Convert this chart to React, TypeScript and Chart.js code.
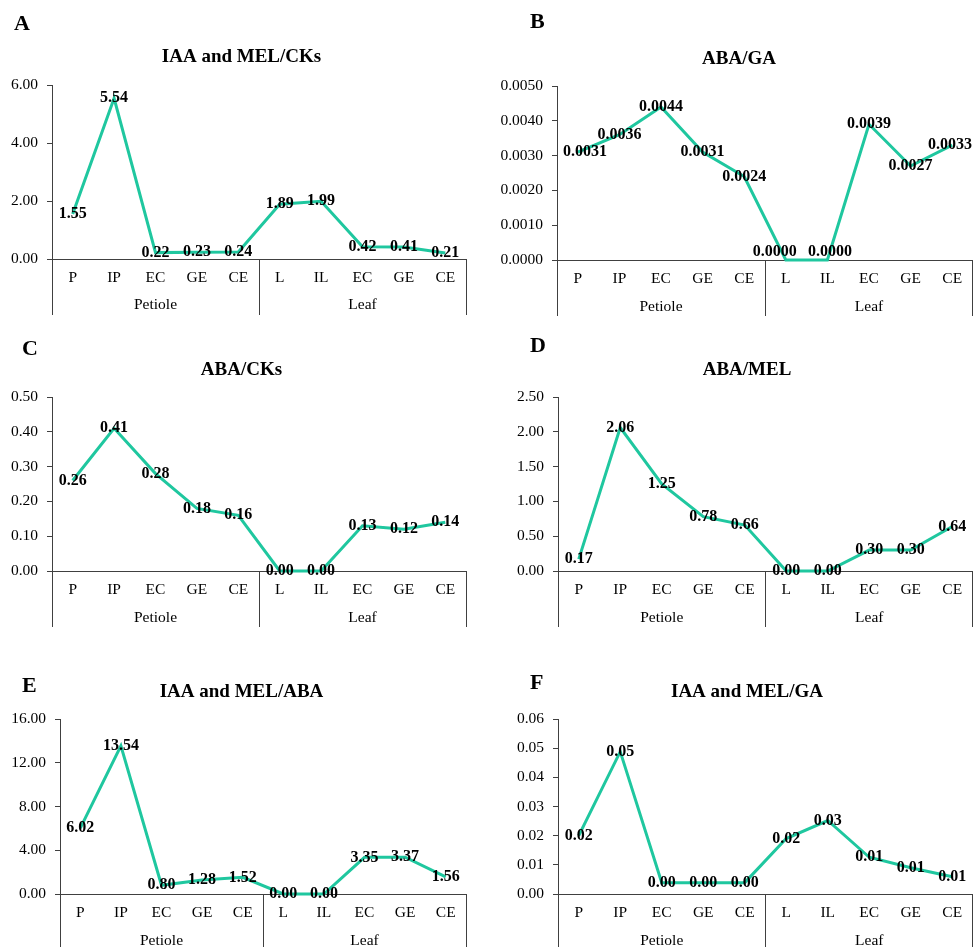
import React, { useEffect, useRef } from 'react';
import { Chart, registerables } from 'chart.js';

Chart.register(...registerables);

// ---------- data ----------
const categories = ['P', 'IP', 'EC', 'GE', 'CE', 'L', 'IL', 'EC', 'GE', 'CE'];
const groups = ['Petiole', 'Leaf'];
const groupSizes = [5, 5];

const iaaMelCks = [1.55, 5.54, 0.22, 0.23, 0.24, 1.89, 1.99, 0.42, 0.41, 0.21];
const abaGa = [0.0031, 0.0036, 0.0044, 0.0031, 0.0024, 0.0, 0.0, 0.0039, 0.0027, 0.0033];
const abaCks = [0.26, 0.41, 0.28, 0.18, 0.16, 0.0, 0.0, 0.13, 0.12, 0.14];
const abaMel = [0.17, 2.06, 1.25, 0.78, 0.66, 0.0, 0.0, 0.30, 0.30, 0.64];
const iaaMelAba = [6.02, 13.54, 0.80, 1.28, 1.52, 0.0, 0.0, 3.35, 3.37, 1.56];
const iaaMelGa = [0.0200, 0.0488, 0.0039, 0.0039, 0.0039, 0.0190, 0.0252, 0.0126, 0.0090, 0.0059];

const panelLetters = ['A', 'B', 'C', 'D', 'E', 'F'];
const panelTitles = ['IAA and MEL/CKs', 'ABA/GA', 'ABA/CKs', 'ABA/MEL', 'IAA and MEL/ABA', 'IAA and MEL/GA'];
const panelSeries = [iaaMelCks, abaGa, abaCks, abaMel, iaaMelAba, iaaMelGa];
const axisMax = [6, 0.005, 0.5, 2.5, 16, 0.06];
const axisStep = [2, 0.001, 0.1, 0.5, 4, 0.01];
const decimals = [2, 4, 2, 2, 2, 2];

// ---------- layout (page pixels) ----------
type Layout = {
  cx: number; cy: number; cw: number; ch: number;
  l: number; r: number; t: number; b: number;
  tx: number; ty: number; lx: number; ly: number;
  sepBottom: number; groupY: number;
  nudge?: Record<number, [number, number]>;
};
const layouts: Layout[] = [
  { cx: 0, cy: 0, cw: 490, ch: 320, l: 52, r: 466, t: 85, b: 259, tx: 241.5, ty: 57, lx: 14, ly: 24.5, sepBottom: 315, groupY: 305 },
  { cx: 490, cy: 0, cw: 483, ch: 320, l: 557, r: 973, t: 86, b: 260, tx: 739, ty: 59, lx: 530, ly: 22.5, sepBottom: 316, groupY: 306.5,
    nudge: { 5: [-11, -8.5], 6: [2.5, -8.5] } },
  { cx: 0, cy: 320, cw: 490, ch: 315, l: 52, r: 466, t: 397, b: 571, tx: 241.5, ty: 370, lx: 22, ly: 349, sepBottom: 627, groupY: 617.5 },
  { cx: 490, cy: 320, cw: 483, ch: 315, l: 558, r: 973, t: 397, b: 571, tx: 747, ty: 370, lx: 530, ly: 346.5, sepBottom: 627, groupY: 617.5 },
  { cx: 0, cy: 635, cw: 490, ch: 312, l: 60, r: 466, t: 719, b: 894, tx: 241.5, ty: 692, lx: 22, ly: 686.5, sepBottom: 947, groupY: 941 },
  { cx: 490, cy: 635, cw: 483, ch: 312, l: 558, r: 973, t: 719, b: 894, tx: 747, ty: 692, lx: 530, ly: 683.5, sepBottom: 947, groupY: 941 },
];

const SERIF = '"Liberation Serif", "Times New Roman", serif';
const LINE_COLOR = '#1fc79f';
const AXIS_COLOR = '#404040';

function makeChart(canvas: HTMLCanvasElement, i: number) {
  const L = layouts[i];
  const dec = decimals[i];
  const series = panelSeries[i];

  const decorPlugin = {
    id: 'decor' + i,
    afterDatasetsDraw(chart: any) {
      const ctx = chart.ctx;
      const meta = chart.getDatasetMeta(0);
      const area = chart.chartArea;
      ctx.save();
      ctx.font = `bold 16px ${SERIF}`;
      ctx.fillStyle = '#000';
      ctx.textAlign = 'center';
      ctx.textBaseline = 'middle';
      meta.data.forEach((pt: any, k: number) => {
        const text = Number(series[k]).toFixed(dec);
        const w = ctx.measureText(text).width;
        let x = pt.x;
        let y = pt.y;
        const n = L.nudge && L.nudge[k];
        if (n) { x += n[0]; y += n[1]; }
        if (x - w / 2 < area.left + 6) x = area.left + 6 + w / 2;
        if (x + w / 2 > chart.width - 1) x = chart.width - 1 - w / 2;
        ctx.fillText(text, x, y);
      });
      ctx.restore();
    },
    afterDraw(chart: any) {
      const ctx = chart.ctx;
      const area = chart.chartArea;
      const xs = chart.scales.x;
      ctx.save();
      // separators of the grouped category axis
      ctx.strokeStyle = AXIS_COLOR;
      ctx.lineWidth = 1;
      const sepB = L.sepBottom - L.cy;
      const seps: number[] = [area.left];
      let idx = 0;
      groupSizes.forEach((n, g) => {
        idx += n;
        if (g < groupSizes.length - 1) {
          seps.push((xs.getPixelForTick(idx - 1) + xs.getPixelForTick(idx)) / 2);
        }
      });
      seps.push(Math.min(area.right, chart.width - 0.5));
      seps.forEach((sx) => {
        const px = Math.round(sx - 0.5) + 0.5;
        ctx.beginPath();
        ctx.moveTo(px, area.bottom);
        ctx.lineTo(px, sepB);
        ctx.stroke();
      });
      // group labels
      ctx.fillStyle = '#000';
      ctx.font = `15.5px ${SERIF}`;
      ctx.textAlign = 'center';
      ctx.textBaseline = 'middle';
      let start = 0;
      groups.forEach((name, g) => {
        const end = start + groupSizes[g] - 1;
        const gx = (xs.getPixelForTick(start) + xs.getPixelForTick(end)) / 2;
        ctx.fillText(name, gx, L.groupY - L.cy);
        start = end + 1;
      });
      // title
      ctx.font = `bold 19px ${SERIF}`;
      ctx.fillText(panelTitles[i], L.tx - L.cx, L.ty - L.cy);
      // panel letter
      ctx.font = `bold 22px ${SERIF}`;
      ctx.textAlign = 'left';
      ctx.fillText(panelLetters[i], L.lx - L.cx, L.ly - L.cy);
      ctx.restore();
    },
  };

  return new Chart(canvas, {
    type: 'line',
    data: {
      labels: categories,
      datasets: [
        {
          data: series,
          borderColor: LINE_COLOR,
          backgroundColor: LINE_COLOR,
          borderWidth: 3,
          pointRadius: 0,
          tension: 0,
          fill: false,
          clip: false as any,
        },
      ],
    },
    options: {
      animation: false,
      responsive: false,
      maintainAspectRatio: false,
      devicePixelRatio: 1,
      layout: {
        padding: { left: 0, right: L.cx + L.cw - L.r, top: L.t - L.cy, bottom: 0 },
      },
      plugins: {
        legend: { display: false },
        tooltip: { enabled: false },
        title: { display: false },
      },
      scales: {
        x: {
          type: 'category',
          offset: true,
          grid: { display: false, drawTicks: false },
          border: { display: true, color: AXIS_COLOR, width: 1 },
          ticks: {
            color: '#000',
            font: { family: SERIF, size: 15.5 },
            padding: 9.5,
            maxRotation: 0,
            minRotation: 0,
            autoSkip: false,
          },
          afterFit: (s: any) => {
            s.height = L.cy + L.ch - L.b;
          },
        },
        y: {
          min: 0,
          max: axisMax[i],
          ticks: {
            stepSize: axisStep[i],
            color: '#000',
            font: { family: SERIF, size: 15.5 },
            padding: 9,
            callback: (v: any) => Number(v).toFixed(dec),
          },
          grid: {
            display: true,
            drawOnChartArea: false,
            drawTicks: true,
            tickLength: 5,
            color: AXIS_COLOR,
            lineWidth: 1,
          },
          border: { display: true, color: AXIS_COLOR, width: 1 },
          afterFit: (s: any) => {
            s.width = L.l - L.cx;
          },
        },
      },
    },
    plugins: [decorPlugin],
  } as any);
}

function Panel({ index }: { index: number }) {
  const ref = useRef<HTMLCanvasElement | null>(null);
  const L = layouts[index];
  useEffect(() => {
    if (!ref.current) return;
    const chart = makeChart(ref.current, index);
    return () => chart.destroy();
  }, [index]);
  return (
    <canvas
      ref={ref}
      width={L.cw}
      height={L.ch}
      style={{ position: 'absolute', left: L.cx, top: L.cy, width: L.cw, height: L.ch, display: 'block' }}
    />
  );
}

export default function App() {
  return (
    <div style={{ position: 'absolute', left: 0, top: 0, width: 973, height: 947, background: '#fff', overflow: 'hidden' }}>
      {layouts.map((_, i) => (
        <Panel key={i} index={i} />
      ))}
    </div>
  );
}
